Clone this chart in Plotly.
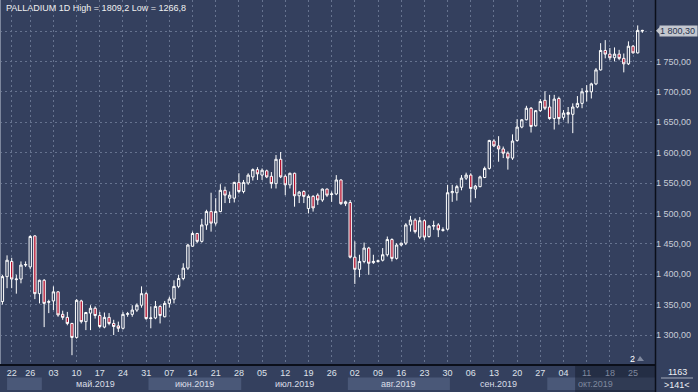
import plotly.graph_objects as go
import pandas as pd

# ---------------- data ----------------
dates = [d.strftime('%Y-%m-%d') for d in pd.bdate_range('2019-04-18', '2019-10-29')]

opens = [1355, 1396, 1421, 1391, 1392, 1415, 1412, 1463, 1368, 1390,
         1355, 1356, 1371, 1334, 1329, 1319, 1296, 1356, 1322, 1336,
         1344, 1332, 1313, 1329, 1319, 1315, 1311, 1334, 1334, 1341,
         1349, 1368, 1327, 1328, 1347, 1330, 1352, 1359, 1380, 1393,
         1410, 1446, 1467, 1454, 1481, 1503, 1484, 1503, 1538, 1525,
         1525, 1551, 1536, 1550, 1560, 1572, 1563, 1570, 1561, 1549,
         1589, 1561, 1547, 1566, 1529, 1536, 1508, 1528, 1530, 1522,
         1540, 1531, 1532, 1555, 1516, 1518, 1428, 1408, 1421, 1443,
         1419, 1421, 1423, 1432, 1457, 1426, 1448, 1451, 1481, 1489,
         1461, 1488, 1462, 1479, 1481, 1472, 1474, 1534, 1534, 1543,
         1558, 1563, 1540, 1544, 1559, 1574, 1619, 1611, 1606, 1599,
         1591, 1620, 1642, 1654, 1673, 1644, 1669, 1686, 1675, 1656,
         1689, 1658, 1666, 1663, 1675, 1681, 1700, 1700, 1713, 1736,
         1768, 1762, 1756, 1762, 1755, 1746, 1775, 1764, 1801]

highs = [1399, 1431, 1427, 1399, 1421, 1421, 1464, 1464, 1391, 1392,
         1358, 1380, 1372, 1340, 1338, 1320, 1359, 1358, 1338, 1349,
         1347, 1338, 1337, 1336, 1325, 1322, 1338, 1338, 1349, 1352,
         1380, 1371, 1347, 1356, 1349, 1356, 1363, 1390, 1399, 1418,
         1450, 1470, 1468, 1491, 1506, 1534, 1525, 1548, 1544, 1536,
         1552, 1566, 1555, 1566, 1574, 1576, 1574, 1572, 1568, 1596,
         1601, 1564, 1567, 1567, 1537, 1538, 1531, 1530, 1533, 1541,
         1541, 1536, 1563, 1556, 1521, 1522, 1454, 1432, 1452, 1445,
         1432, 1424, 1443, 1462, 1459, 1451, 1452, 1484, 1496, 1492,
         1494, 1490, 1481, 1488, 1484, 1477, 1547, 1547, 1547, 1563,
         1567, 1566, 1547, 1562, 1577, 1621, 1622, 1627, 1610, 1602,
         1630, 1655, 1655, 1677, 1675, 1670, 1688, 1701, 1695, 1695,
         1692, 1670, 1675, 1681, 1693, 1706, 1711, 1715, 1739, 1780,
         1785, 1772, 1773, 1769, 1763, 1783, 1777, 1809.2, 1802]

lows = [1350, 1377, 1377, 1368, 1385, 1412, 1408, 1359, 1352, 1313,
        1336, 1341, 1330, 1325, 1316, 1266.8, 1294, 1319, 1308, 1308,
        1327, 1311, 1311, 1316, 1300, 1305, 1309, 1330, 1330, 1338,
        1345, 1325, 1311, 1326, 1319, 1329, 1345, 1352, 1377, 1390,
        1407, 1445, 1451, 1452, 1473, 1470, 1480, 1502, 1517, 1517,
        1518, 1533, 1533, 1547, 1554, 1555, 1555, 1558, 1541, 1541,
        1558, 1530, 1541, 1511, 1517, 1517, 1500, 1503, 1514, 1519,
        1527, 1519, 1530, 1514, 1512, 1426, 1384, 1395, 1418, 1399,
        1417, 1419, 1421, 1429, 1421, 1424, 1446, 1448, 1470, 1467,
        1458, 1456, 1460, 1473, 1461, 1470, 1472, 1519, 1521, 1538,
        1555, 1518, 1525, 1543, 1558, 1572, 1609, 1585, 1591, 1572,
        1588, 1618, 1640, 1653, 1633, 1643, 1667, 1670, 1654, 1638,
        1646, 1654, 1648, 1632, 1673, 1673, 1684, 1689, 1711, 1735,
        1755, 1752, 1750, 1752, 1732, 1744, 1763, 1763, 1797]

closes = [1396, 1423, 1392, 1392, 1415, 1416, 1462, 1368, 1390, 1352,
          1354, 1371, 1333, 1329, 1319, 1296, 1357, 1322, 1337, 1344,
          1332, 1314, 1329, 1319, 1314, 1311, 1334, 1335, 1341, 1349,
          1368, 1327, 1328, 1347, 1332, 1352, 1359, 1380, 1393, 1410,
          1448, 1467, 1454, 1481, 1503, 1484, 1503, 1538, 1530, 1530,
          1551, 1536, 1551, 1563, 1572, 1565, 1571, 1560, 1549, 1589,
          1560, 1547, 1566, 1529, 1535, 1528, 1528, 1509, 1522, 1540,
          1530, 1532, 1555, 1516, 1519, 1428, 1408, 1421, 1443, 1418,
          1421, 1422, 1432, 1457, 1426, 1448, 1451, 1481, 1489, 1470,
          1488, 1461, 1479, 1480, 1473, 1473, 1534, 1536, 1544, 1558,
          1563, 1541, 1545, 1560, 1574, 1620, 1611, 1606, 1599, 1591,
          1619, 1642, 1654, 1673, 1643, 1669, 1684, 1673, 1656, 1688,
          1656, 1665, 1663, 1675, 1681, 1700, 1701, 1713, 1736, 1768,
          1762, 1756, 1762, 1755, 1746, 1775, 1764, 1801, 1800.3]

tick_dates = ['2019-04-22', '2019-04-26', '2019-05-03', '2019-05-10', '2019-05-17',
              '2019-05-24', '2019-05-31', '2019-06-07', '2019-06-14', '2019-06-21',
              '2019-06-28', '2019-07-05', '2019-07-12', '2019-07-19', '2019-07-26',
              '2019-08-02', '2019-08-09', '2019-08-16', '2019-08-23', '2019-08-30',
              '2019-09-06', '2019-09-13', '2019-09-20', '2019-09-27', '2019-10-04',
              '2019-10-11', '2019-10-18', '2019-10-25']
tick_labels = ['22', '26', '03', '10', '17', '24', '31', '07', '14', '21', '28',
               '05', '12', '19', '26', '02', '09', '16', '23', '30',
               '06', '13', '20', '27', '04', '11', '18', '25']
dim_ticks = ['11', '18', '25']

month_keys = ['2019-04', '2019-05', '2019-06', '2019-07', '2019-08', '2019-09', '2019-10']
month_labels = ['', 'май.2019', 'июн.2019', 'июл.2019', 'авг.2019', 'сен.2019', 'окт.2019']

y_ticks = [1300, 1350, 1400, 1450, 1500, 1550, 1600, 1650, 1700, 1750, 1800]
last_price = 1800.3
title_text = 'PALLADIUM 1D High = 1809,2 Low = 1266,8'

# ---------------- style ----------------
BG = '#34405e'
GRID = '#66738f'
RED = '#b3102e'
BAND = '#4a5878'
FONT = 'Liberation Sans, Arial, sans-serif'
W, H = 698, 392
PL, PR, PT, PB = 0, 655, 0, 364
X_RANGE = [-0.52, 140.73]
Y_RANGE = [1252.3, 1851.0]


def px(xp):
    return (xp - PL) / (PR - PL)


def py(yp):
    return (PB - yp) / (PB - PT)


def ylab(v):
    if v == 1800:
        return ''
    return f"{v // 1000} {v % 1000:03d},00"


fig = go.Figure()
fig.add_trace(go.Candlestick(
    x=dates, open=opens, high=highs, low=lows, close=closes,
    increasing=dict(line=dict(color='#ffffff', width=1), fillcolor=BG),
    decreasing=dict(line=dict(color='#ffffff', width=1), fillcolor=RED),
    whiskerwidth=0, hoverinfo='skip', showlegend=False,
))

ticktext = [f'<span style="color:#7f889e">{t}</span>' if (t in dim_ticks and i >= 25) else t
            for i, t in enumerate(tick_labels)]

shapes = []
annotations = []

# month bands
for m_i, (mk, ml) in enumerate(zip(month_keys, month_labels)):
    idxs = [k for k, d in enumerate(dates) if d.startswith(mk)]
    x0 = idxs[0] - 0.5
    x1 = idxs[-1] + 0.5
    if m_i == 0:
        x0 = 1.0
    if m_i == len(month_keys) - 1:
        x1 = X_RANGE[1]
    if m_i % 2 == 0:
        shapes.append(dict(type='rect', xref='x', yref='paper', x0=x0, x1=x1,
                           y0=py(390), y1=py(377.5), fillcolor=BAND, line=dict(width=0),
                           layer='below'))
    if ml:
        col = '#7f889e' if m_i == len(month_keys) - 1 else '#d9dde6'
        annotations.append(dict(xref='x', yref='paper', x=(idxs[0] + idxs[-1]) / 2, y=py(384),
                                text=ml, showarrow=False, font=dict(family=FONT, size=9, color=col),
                                xanchor='center', yanchor='middle'))

# dimmed overlay (October tail)
ov_x0 = dates.index('2019-10-08') + 0.5
shapes.append(dict(type='rect', xref='x', yref='paper', x0=ov_x0, x1=X_RANGE[1],
                   y0=py(392), y1=py(364.5), fillcolor='rgba(18,24,40,0.45)',
                   line=dict(width=0), layer='below'))

# right separator extension and left border
shapes.append(dict(type='line', xref='paper', yref='paper', x0=px(655.5), x1=px(655.5),
                   y0=py(392), y1=py(0), line=dict(color='#0b0f1a', width=1.5)))
shapes.append(dict(type='line', xref='paper', yref='paper', x0=px(0.5), x1=px(0.5),
                   y0=py(364), y1=py(0), line=dict(color='#7d879d', width=1)))

# price tag
tag_y = last_price
dy = 5 / ((PB - PT) / (Y_RANGE[1] - Y_RANGE[0]))
shapes.append(dict(type='path', xref='paper', yref='y',
                   path=f"M {px(656)},{tag_y} L {px(661)},{tag_y + dy} L {px(661)},{tag_y - dy} Z",
                   fillcolor='#c3c7cf', line=dict(width=0)))
annotations.append(dict(xref='paper', yref='y', x=px(659), y=tag_y, text='1 800,30',
                        showarrow=False, xanchor='left', yanchor='middle', align='left',
                        bgcolor='#c3c7cf', borderpad=0, width=37, height=10,
                        font=dict(family=FONT, size=9, color='#27324d')))

# title
annotations.append(dict(xref='paper', yref='paper', x=px(4), y=py(8), text=title_text,
                        showarrow=False, xanchor='left', yanchor='middle',
                        font=dict(family=FONT, size=9, color='#f0f0f0')))

# bottom-right counters
annotations.append(dict(xref='paper', yref='paper', x=px(677), y=py(371.5), text='1163',
                        showarrow=False, xanchor='center', yanchor='middle',
                        font=dict(family=FONT, size=9, color='#eef0f4')))
annotations.append(dict(xref='paper', yref='paper', x=px(677), y=py(384.5), text='&gt;141&lt;',
                        showarrow=False, xanchor='center', yanchor='middle',
                        font=dict(family=FONT, size=9, color='#eef0f4')))
shapes.append(dict(type='line', xref='paper', yref='paper', x0=px(661), x1=px(693),
                   y0=py(378), y1=py(378), line=dict(color='#a3aabb', width=1)))

# "2" marker
annotations.append(dict(xref='paper', yref='paper', x=px(632), y=py(358.5), text='2',
                        showarrow=False, xanchor='center', yanchor='middle',
                        font=dict(family=FONT, size=9, color='#ffffff')))
shapes.append(dict(type='path', xref='paper', yref='paper',
                   path=f"M {px(637)},{py(361)} L {px(644)},{py(361)} L {px(640)},{py(356)} Z",
                   fillcolor='#7f889e', line=dict(width=0)))

fig.update_layout(
    width=W, height=H,
    margin=dict(l=PL, r=W - PR, t=PT, b=H - PB, pad=0),
    paper_bgcolor=BG, plot_bgcolor=BG,
    showlegend=False,
    boxgap=0.28,
    xaxis=dict(type='category', range=X_RANGE, rangeslider=dict(visible=False),
               tickmode='array', tickvals=tick_dates, ticktext=ticktext,
               showgrid=True, gridcolor=GRID, griddash='2px,3px', gridwidth=1,
               ticks='', tickfont=dict(family=FONT, size=9, color='#dfe2ea'),
               showline=True, linecolor='#0b0f1a', linewidth=1.5, zeroline=False,
               fixedrange=True),
    yaxis=dict(side='right', range=Y_RANGE, tickmode='array', tickvals=y_ticks,
               ticktext=[ylab(v) for v in y_ticks],
               showgrid=True, gridcolor=GRID, griddash='2px,3px', gridwidth=1,
               ticks='', tickfont=dict(family=FONT, size=9, color='#c8cdd8'),
               showline=False, zeroline=False, fixedrange=True),
    shapes=shapes,
    annotations=annotations,
)

fig.write_html('out.html',
               config={'displayModeBar': False, 'staticPlot': True},
               post_script="document.body.style.margin='0';document.body.style.padding='0';"
                           "document.body.style.background='" + BG + "';")
